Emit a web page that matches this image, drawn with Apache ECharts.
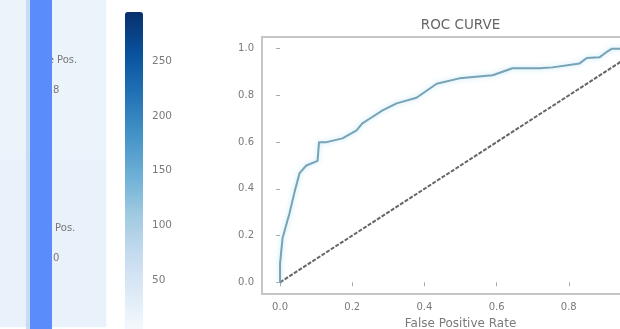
<!DOCTYPE html>
<html>
<head>
<meta charset="utf-8">
<script src="https://cdn.jsdelivr.net/npm/echarts@6/dist/echarts.min.js"></script>
<style>html,body{margin:0;padding:0;background:#fff}#c{width:620px;height:329px}</style>
</head>
<body>
<div id="c"></div>
<script>
// ROC curve points
const fprValues = [0,0,0.007,0.026,0.04,0.054,0.073,0.104,0.108,0.129,0.173,0.212,0.228,0.248,0.284,0.323,0.378,0.434,0.497,0.589,0.644,0.719,0.755,0.83,0.85,0.885,0.904,0.92,0.95,1.0];
const tprValues = [0,0.08,0.19,0.295,0.385,0.467,0.50,0.52,0.60,0.60,0.616,0.65,0.68,0.70,0.736,0.766,0.79,0.85,0.873,0.886,0.916,0.916,0.92,0.937,0.96,0.963,0.985,1.0,1.0,1.0];
const chanceFpr = [0, 1];
const chanceTpr = [0, 1];
const rocTicks = [0, 0.2, 0.4, 0.6, 0.8, 1.0];

// Confusion-matrix heatmap (only its right column is visible)
const cmCols = ['Negative', 'Positive'];
const cmRows = ['Negative', 'Positive'];
const cmValues = [[6, 18], [5, 20]];
const cmNames = [['True Neg.', 'False Pos.'], ['False Neg.', 'True Pos.']];
const cbMin = 0, cbMax = 295;
const cbTicks = [50, 100, 150, 200, 250];
const blues = ['#f7fbff','#deebf7','#c6dbef','#9ecae1','#6baed6','#4292c6','#2171b5','#08519c','#08306b'];

const heatData = [];
cmRows.forEach((r, ri) => cmCols.forEach((c, ci) => heatData.push([ci, ri, cmValues[ri][ci]])));

const chart = echarts.init(document.getElementById('c'), null, {renderer: 'canvas'});
const tickColor = '#7a7a7a';
const fam = 'DejaVu Sans';
chart.setOption({
  animation: false,
  textStyle: {fontFamily: fam},
  grid: [
    {left: 262, width: 397, top: 37, bottom: 35, show: true, borderColor: '#c6c6c6', borderWidth: 2, outerBoundsMode: 'none'},
    {left: -106, width: 212, top: -9, height: 336, outerBoundsMode: 'none'},
    {left: 125, width: 18, top: 12, height: 323, outerBoundsMode: 'none'}
  ],
  xAxis: [
    {gridIndex: 0, type: 'value', min: -0.05, max: 1.05,
     axisLine: {show: false}, splitLine: {show: false},
     axisTick: {show: true, length: 4, lineStyle: {color: '#aaa'}, customValues: rocTicks},
     axisLabel: {fontSize: 10, color: tickColor, margin: 8, customValues: rocTicks, formatter: v => v.toFixed(1)},
     name: 'False Positive Rate', nameLocation: 'middle', nameGap: 24,
     nameTextStyle: {fontSize: 12, color: tickColor}},
    {gridIndex: 0, type: 'value', position: 'top', min: -0.05, max: 1.05,
     axisLine: {show: false}, axisTick: {show: false}, axisLabel: {show: false}, splitLine: {show: false},
     name: 'ROC CURVE', nameLocation: 'middle', nameGap: 5,
     nameTextStyle: {fontSize: 13.5, color: '#666'}},
    {gridIndex: 1, type: 'category', data: cmCols, show: false},
    {gridIndex: 2, type: 'value', show: false, min: 0, max: 1}
  ],
  yAxis: [
    {gridIndex: 0, type: 'value', min: -0.05, max: 1.05,
     axisLine: {show: false}, splitLine: {show: false},
     axisTick: {show: true, length: 4, lineStyle: {color: '#aaa'}, customValues: rocTicks},
     axisLabel: {fontSize: 10, color: tickColor, margin: 8, customValues: rocTicks, formatter: v => v.toFixed(1)}},
    {gridIndex: 1, type: 'category', data: cmRows, inverse: true, show: false},
    {gridIndex: 2, type: 'value', position: 'right', min: cbMin, max: cbMax,
     axisLine: {show: false}, splitLine: {show: false},
     axisTick: {show: true, length: 3, lineStyle: {color: '#999'}, customValues: cbTicks},
     axisLabel: {fontSize: 10.5, color: tickColor, margin: 9, customValues: cbTicks}}
  ],
  visualMap: {
    type: 'continuous', seriesIndex: 2, min: cbMin, max: cbMax, calculable: false,
    left: 125, top: 12, itemWidth: 18, itemHeight: 323, padding: 0,
    inRange: {color: blues}, textStyle: {fontSize: 1}, text: null
  },
  graphic: [
    {type: 'rect', z: 100, shape: {x: 26, y: 0, width: 4, height: 329}, style: {fill: '#c9dcf6'}},
    {type: 'rect', z: 100, shape: {x: 30, y: 0, width: 22, height: 329}, style: {fill: '#5b8cfb'}}
  ],
  series: [
    {type: 'line', xAxisIndex: 0, yAxisIndex: 0, symbol: 'none',
     data: chanceFpr.map((v, i) => [v, chanceTpr[i]]),
     lineStyle: {color: '#666', width: 2, type: [4, 1.5]}},
    {type: 'line', xAxisIndex: 0, yAxisIndex: 0, symbol: 'none',
     data: fprValues.map((v, i) => [v, tprValues[i]]),
     lineStyle: {color: '#78a3b6', width: 2, shadowBlur: 5, shadowColor: 'rgba(150,215,240,0.7)'}},
    {type: 'heatmap', xAxisIndex: 2, yAxisIndex: 1, data: heatData,
     label: {show: true, fontSize: 10, color: '#777', lineHeight: 30,
       formatter: p => cmNames[p.value[1]][p.value[0]] + '\n' + p.value[2]}}
  ]
});
</script>
</body>
</html>
